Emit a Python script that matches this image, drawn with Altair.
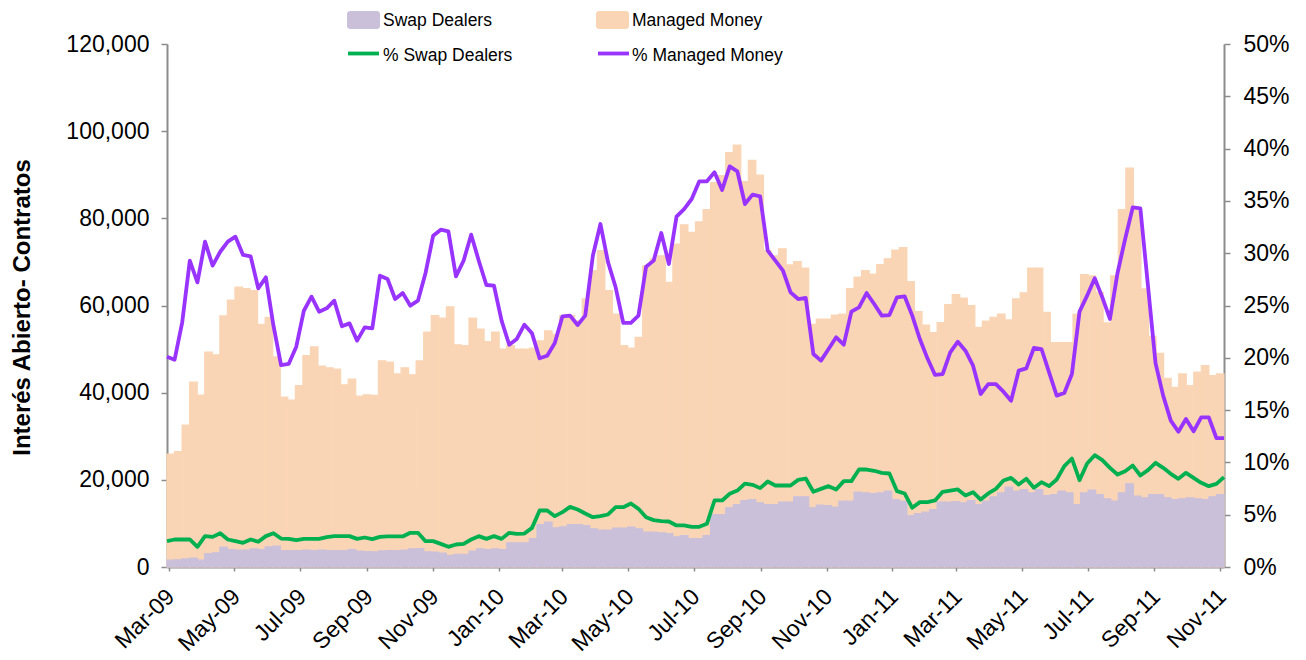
import altair as alt
import pandas as pd

# ---------------- data ----------------
FIRST_WEEK = "2009-03-03"   # weekly observations (Tuesdays)

MANAGED_MONEY = [
    25900, 26450, 32570, 42400, 39450, 49300, 48700, 57600, 61250, 64200,
    63900, 63400, 55700, 57300, 48200, 39000, 38300, 41600, 48500, 50500,
    46100, 45700, 45400, 41800, 43100, 39200, 39500, 39400, 47300, 47000,
    44300, 45700, 44100, 47300, 53900, 57700, 57100, 59700, 51000, 50800,
    57100, 54600, 51700, 53900, 50000, 50800, 50000, 50000, 50200, 51900,
    54200, 53400, 57700, 57700, 56500, 61500, 68000, 72600, 63400, 58000,
    50800, 50200, 52700, 69100, 70700, 71400, 65300, 74100, 78500, 76800,
    79200, 82000, 88200, 89800, 95100, 96800, 88400, 93300, 89900, 72600,
    71400, 73000, 69300, 70100, 68600, 55700, 56900, 56900, 57800, 58000,
    63900, 66500, 68000, 67200, 69400, 70700, 72700, 73300, 65500, 58600,
    55500, 53800, 56100, 60200, 62500, 61700, 60000, 55000, 56400, 57300,
    58000, 56700, 61500, 62900, 68600, 68600, 58400, 51500, 51500, 51500,
    58000, 67100, 66800, 63000, 56000, 66800, 82000, 91500, 82000, 63800,
    52900, 49000, 43300, 41200, 44300, 41600, 44700, 46200, 43900, 44300,
]

SWAP_DEALERS = [
    1560, 1640, 1870, 2030, 1560, 3100, 3250, 4550, 4000, 3870,
    3870, 4170, 4000, 4620, 4780, 3790, 3790, 3790, 3870, 3790,
    3870, 3790, 3790, 3790, 4000, 3640, 3560, 3480, 3710, 3790,
    3790, 3870, 4170, 4240, 3480, 3400, 3170, 2700, 2930, 2930,
    3640, 4170, 4000, 4170, 4000, 5550, 5550, 5550, 6540, 9750,
    10280, 8990, 9220, 9750, 9750, 9520, 8760, 8460, 8460, 8910,
    8910, 9140, 8760, 7990, 7990, 7840, 7690, 6920, 7230, 6540,
    6540, 7230, 12040, 12040, 13570, 14330, 15250, 15480, 14720, 14330,
    14330, 14870, 14870, 16100, 16100, 13570, 14180, 14100, 13720, 15100,
    15100, 17160, 17000, 16860, 17010, 17400, 15480, 15100, 11810, 12270,
    12580, 13190, 14870, 14870, 15020, 14720, 15250, 14340, 15100, 16100,
    17010, 18310, 17400, 17780, 17010, 17780, 16400, 16630, 17400, 17010,
    14340, 17010, 17630, 16630, 15640, 15100, 17010, 19080, 16250, 15870,
    16630, 16630, 15870, 15480, 15640, 15870, 15640, 15480, 16100, 16630,
]

PCT_SWAP_DEALERS = [
    2.47, 2.63, 2.63, 2.63, 1.93, 2.95, 2.88, 3.23, 2.63, 2.47,
    2.31, 2.63, 2.41, 2.95, 3.23, 2.72, 2.69, 2.57, 2.69, 2.69,
    2.69, 2.85, 2.95, 2.95, 2.95, 2.69, 2.82, 2.66, 2.88, 2.92,
    2.92, 2.92, 3.27, 3.27, 2.47, 2.47, 2.21, 1.93, 2.15, 2.21,
    2.63, 2.95, 2.69, 2.95, 2.69, 3.27, 3.17, 3.20, 3.74, 5.40,
    5.40, 4.86, 5.24, 5.75, 5.50, 5.11, 4.76, 4.86, 5.02, 5.72,
    5.72, 6.07, 5.56, 4.76, 4.48, 4.38, 4.35, 3.97, 3.97, 3.84,
    3.84, 4.13, 6.36, 6.36, 7.00, 7.31, 7.98, 7.86, 7.54, 8.17,
    7.79, 7.79, 7.79, 8.33, 8.46, 7.19, 7.47, 7.73, 7.41, 8.21,
    8.21, 9.32, 9.32, 9.20, 9.00, 8.94, 7.25, 7.03, 5.66, 6.20,
    6.20, 6.36, 7.19, 7.31, 7.41, 6.84, 7.15, 6.45, 7.03, 7.47,
    8.27, 8.52, 7.89, 8.43, 7.57, 8.11, 7.73, 8.37, 9.64, 10.37,
    8.30, 9.89, 10.69, 10.21, 9.48, 8.84, 9.16, 9.70, 8.75, 9.26,
    9.96, 9.48, 8.91, 8.43, 9.00, 8.52, 8.05, 7.73, 7.95, 8.59,
]

PCT_MANAGED_MONEY = [
    20.10, 19.82, 23.39, 29.28, 27.21, 31.10, 28.81, 30.14, 31.10, 31.58,
    29.83, 29.70, 26.64, 27.69, 23.07, 19.31, 19.41, 21.06, 24.50, 25.84,
    24.41, 24.73, 25.46, 23.01, 23.29, 21.64, 22.91, 22.82, 27.85, 27.53,
    25.62, 26.19, 24.98, 25.46, 28.11, 31.67, 32.25, 32.09, 27.79, 29.28,
    31.77, 29.28, 26.96, 26.89, 23.55, 21.25, 21.80, 23.17, 22.34, 19.95,
    20.20, 21.41, 23.96, 24.03, 23.14, 24.03, 29.76, 32.79, 29.13, 26.74,
    23.33, 23.33, 24.03, 28.71, 29.29, 31.93, 28.97, 33.49, 34.22, 35.18,
    36.87, 36.87, 37.73, 36.04, 38.30, 37.83, 34.70, 35.60, 35.44, 30.24,
    29.29, 28.33, 26.26, 25.62, 25.72, 20.36, 19.73, 20.84, 21.96, 21.26,
    24.41, 24.82, 26.19, 25.14, 24.03, 24.09, 25.78, 25.88, 24.03, 21.80,
    19.95, 18.36, 18.45, 20.52, 21.54, 20.68, 19.25, 16.54, 17.49, 17.49,
    16.76, 15.90, 18.77, 18.99, 20.94, 20.84, 18.61, 16.38, 16.63, 18.45,
    24.41, 25.94, 27.60, 25.78, 23.71, 28.11, 31.36, 34.38, 34.29, 26.90,
    19.47, 16.38, 13.99, 12.94, 14.15, 12.97, 14.31, 14.31, 12.33, 12.33,
]

Y_LEFT_TICKS = [0, 20000, 40000, 60000, 80000, 100000, 120000]
Y_RIGHT_TICKS = [0, 0.05, 0.10, 0.15, 0.20, 0.25, 0.30, 0.35, 0.40, 0.45, 0.50]
X_LABEL_MONTHS = [
    "2009-03-01", "2009-05-01", "2009-07-01", "2009-09-01", "2009-11-01",
    "2010-01-01", "2010-03-01", "2010-05-01", "2010-07-01", "2010-09-01",
    "2010-11-01", "2011-01-01", "2011-03-01", "2011-05-01", "2011-07-01",
    "2011-09-01", "2011-11-01",
]

LEGEND_LABELS = ["Swap Dealers", "Managed Money", "% Swap Dealers", "% Managed Money"]
Y_TITLE = "Interés Abierto- Contratos"

# ---------------- styles ----------------
LAVENDER = "#CAC0DA"
PEACH = "#FAD5B5"
GREEN = "#00B050"
PURPLE = "#9933FF"
AXIS_GRAY = "#8C8C8C"
FONT = "Liberation Sans"

# ---------------- table ----------------
dates = pd.date_range(FIRST_WEEK, periods=len(MANAGED_MONEY), freq="7D", tz="UTC")
half = pd.Timedelta(hours=84)
fmt = "%Y-%m-%dT%H:%M:%SZ"
df = pd.DataFrame({
    "date": dates.strftime(fmt),
    "start": (dates - half).strftime(fmt),
    "end": (dates + half).strftime(fmt),
    "mm": MANAGED_MONEY,
    "sd": SWAP_DEALERS,
    "pmm": [v / 100 for v in PCT_MANAGED_MONEY],
    "psd": [v / 100 for v in PCT_SWAP_DEALERS],
})


def ms(ts):
    return int(pd.Timestamp(ts).value // 10**6)


bar_domain = [ms(dates[0] - half), ms(dates[-1] + half)]
line_domain = [ms(dates[0]), ms(dates[-1])]
label_ms = [ms(pd.Timestamp(d, tz="UTC")) for d in X_LABEL_MONTHS]

axis_common = dict(
    grid=False, domainColor=AXIS_GRAY, domainWidth=2, tickColor=AXIS_GRAY,
    tickWidth=1.5, labelColor="black", labelFont=FONT, labelFontSize=23,
)

x_axis = alt.Axis(
    values=label_ms, format="%b-%y", labelAngle=315, labelAlign="right",
    labelBaseline="top", labelPadding=14, labelOffset=-6, tickSize=4,
    labelOverlap=False, labelFlush=False, labelBound=False, title=None,
    **axis_common,
)
x_scale = alt.Scale(type="utc", domain=bar_domain, nice=False)

left_axis = alt.Axis(
    values=Y_LEFT_TICKS, format=",d", tickSize=6, labelPadding=12,
    title=Y_TITLE, titleFont=FONT, titleFontSize=24, titleFontWeight="bold",
    titleColor="black", titleAngle=270, titleX=-145, titleY=263,
    titleAlign="center", titleBaseline="middle", **axis_common,
)
left_scale = alt.Scale(domain=[0, 120000], nice=False)

peach = alt.Chart(df).mark_rect(color=PEACH, stroke=PEACH, strokeWidth=1.2).encode(
    x=alt.X("start:T", scale=x_scale, axis=x_axis), x2="end:T",
    y=alt.Y("mm:Q", scale=left_scale, axis=left_axis), y2=alt.datum(0),
)
lav = alt.Chart(df).mark_rect(color=LAVENDER, stroke=LAVENDER, strokeWidth=1.2).encode(
    x=alt.X("start:T", scale=x_scale, axis=x_axis), x2="end:T",
    y=alt.Y("sd:Q", scale=left_scale, axis=left_axis), y2=alt.datum(0),
)
bars = alt.layer(peach, lav)

line_scale_x = alt.Scale(type="utc", domain=line_domain, nice=False)
right_axis = alt.Axis(
    orient="right", values=Y_RIGHT_TICKS, format=".0%", tickSize=6,
    labelPadding=13, title=None, **axis_common,
)
right_scale = alt.Scale(domain=[0, 0.5], nice=False)

purple = alt.Chart(df).mark_line(color=PURPLE, strokeWidth=3.8, strokeJoin="round").encode(
    x=alt.X("date:T", scale=line_scale_x, axis=None),
    y=alt.Y("pmm:Q", scale=right_scale, axis=right_axis),
)
green = alt.Chart(df).mark_line(color=GREEN, strokeWidth=3.8, strokeJoin="round").encode(
    x=alt.X("date:T", scale=line_scale_x, axis=None),
    y=alt.Y("psd:Q", scale=right_scale, axis=right_axis),
)
lines = alt.layer(green, purple)

# ---------------- legend (manual, two rows) ----------------
def legend_text(label, x, y):
    return alt.Chart(pd.DataFrame({"label": [label]})).mark_text(
        align="left", baseline="middle", font=FONT, fontSize=17.5, color="black",
    ).encode(text="label:N", x=alt.value(x), y=alt.value(y))


def legend_swatch(color, x, y):
    return alt.Chart(pd.DataFrame({"k": [0]})).mark_rect(color=color, cornerRadius=3).encode(
        x=alt.value(x), x2=alt.value(x + 33), y=alt.value(y), y2=alt.value(y + 18),
    )


def legend_line(color, x, y):
    return alt.Chart(pd.DataFrame({"k": [0]})).mark_rule(color=color, strokeWidth=3.8).encode(
        x=alt.value(x), x2=alt.value(x + 31), y=alt.value(y),
    )


legend = [
    legend_swatch(LAVENDER, 180, -33),
    legend_text(LEGEND_LABELS[0], 216, -23),
    legend_swatch(PEACH, 429, -33),
    legend_text(LEGEND_LABELS[1], 465, -23),
    legend_line(GREEN, 181, 9.5),
    legend_text(LEGEND_LABELS[2], 216, 12),
    legend_line(PURPLE, 431, 9.5),
    legend_text(LEGEND_LABELS[3], 465, 12),
]

chart = (
    alt.layer(bars, lines, *legend)
    .resolve_scale(x="independent", y="independent")
    .properties(
        width=1057, height=523,
        autosize=alt.AutoSizeParams(type="none"),
        padding={"left": 159, "top": 36, "right": 72, "bottom": 90},
        background="white",
    )
    .configure_view(strokeWidth=0)
)

chart.save("out.html", embed_options={"renderer": "svg", "actions": False})
